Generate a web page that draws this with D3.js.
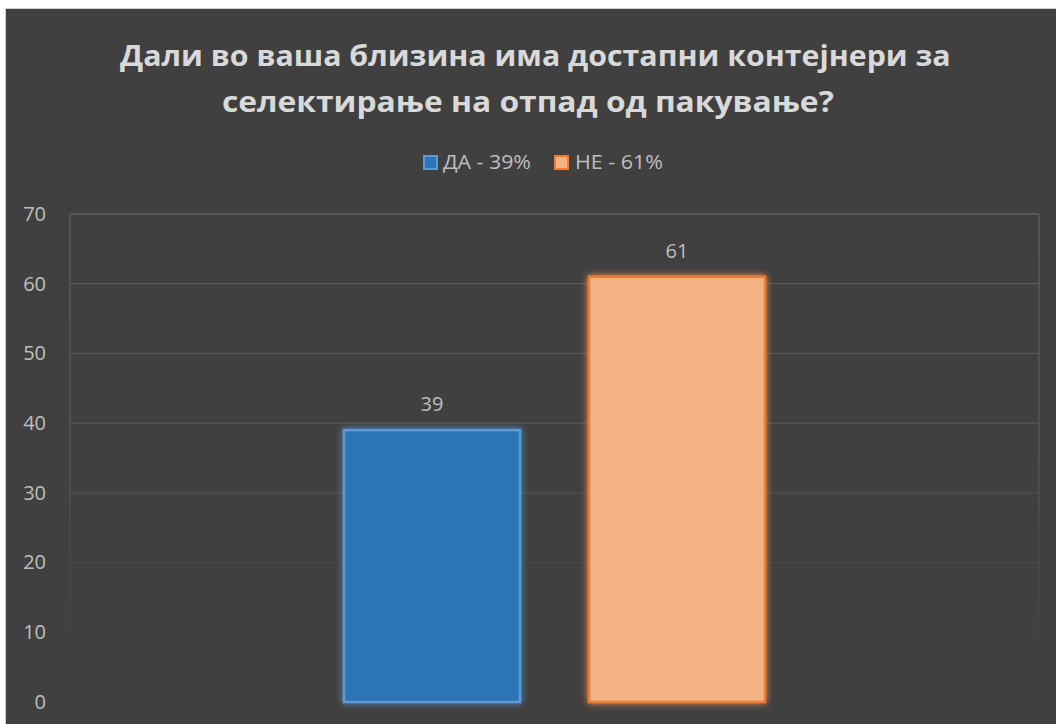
<!DOCTYPE html>
<html><head><meta charset="utf-8">
<script src="https://cdn.jsdelivr.net/npm/d3@7"></script>
<style>html,body{margin:0;padding:0;background:#fff;}svg{display:block;}</style>
</head><body>
<svg id="chart" width="1056" height="724"></svg>
<script>
const titleLines = ["Дали во ваша близина има достапни контејнери за", "селектирање на отпад од пакување?"];
const seriesNames = ["ДА - 39%", "НЕ - 61%"];
const seriesValues = [39, 61];
const fillColors = ["#2E75B6", "#F4B183"];
const strokeColors = ["#5B9BD5", "#ED7D31"];
const yTicks = [0, 10, 20, 30, 40, 50, 60, 70];

const svg = d3.select("#chart");
const W = 1056, H = 724;
const font = "'Open Sans', 'Noto Sans', sans-serif";

function fitText(sel, left, width) {
  const n = sel.node();
  const w = n.getComputedTextLength();
  const s = width / w;
  sel.attr("x", 0).attr("text-anchor", "start")
    .attr("transform", `translate(${left},0) scale(${s},1)`);
}

svg.append("rect").attr("x", 0).attr("y", 0).attr("width", W).attr("height", H).attr("fill", "#ffffff");
svg.append("rect").attr("x", 5.5).attr("y", 8.5).attr("width", W).attr("height", H)
  .attr("fill", "#404040").attr("stroke", "#d0d0d0").attr("stroke-width", 1);

const defs = svg.append("defs");
strokeColors.forEach((c, i) => {
  const f = defs.append("filter").attr("id", "glow" + i).attr("x", "-20%").attr("y", "-20%").attr("width", "140%").attr("height", "140%");
  f.append("feGaussianBlur").attr("in", "SourceGraphic").attr("stdDeviation", 3.5).attr("result", "b");
  const m = f.append("feMerge");
  m.append("feMergeNode").attr("in", "b");
  m.append("feMergeNode").attr("in", "SourceGraphic");
});
const grad = defs.append("linearGradient").attr("id", "gridGrad")
  .attr("gradientUnits", "userSpaceOnUse").attr("x1", 0).attr("x2", 0).attr("y1", 214).attr("y2", 660);
grad.append("stop").attr("offset", "0%").attr("stop-color", "#5e5e5e");
grad.append("stop").attr("offset", "55%").attr("stop-color", "#545454");
grad.append("stop").attr("offset", "100%").attr("stop-color", "#404040");

const plot = {left: 70, right: 1039, top: 214, bottom: 702};
const y = d3.scaleLinear().domain([0, 70]).range([plot.bottom, plot.top]);
const x1 = d3.scaleBand().domain(seriesNames).range([344, 765]).paddingInner(69 / 245).paddingOuter(0);

const g = svg.append("g");
g.selectAll("line.grid").data(yTicks.filter(t => t > 0)).join("line")
  .attr("x1", plot.left).attr("x2", plot.right)
  .attr("y1", d => y(d)).attr("y2", d => y(d))
  .attr("stroke", "url(#gridGrad)").attr("stroke-width", 1.3);
[plot.left, plot.right].forEach(xx => {
  g.append("rect").attr("x", xx - 0.65).attr("y", plot.top).attr("width", 1.3).attr("height", plot.bottom - plot.top)
    .attr("fill", "url(#gridGrad)");
});

const yAxis = d3.axisLeft(y).tickValues(yTicks).tickSize(0).tickPadding(0);
const ya = svg.append("g").attr("transform", `translate(46,0)`).call(yAxis);
ya.select(".domain").remove();
ya.attr("font-size", 20).attr("font-family", font);
ya.selectAll("text").attr("fill", "#bfbfbf").style("font-size", "20px").style("font-family", font);

const bars = svg.append("g");
seriesNames.forEach((s, i) => {
  bars.append("rect")
    .attr("x", x1(s)).attr("y", y(seriesValues[i]))
    .attr("width", x1.bandwidth()).attr("height", y(0) - y(seriesValues[i]))
    .attr("fill", fillColors[i]).attr("stroke", strokeColors[i]).attr("stroke-width", 2.5)
    .attr("filter", `url(#glow${i})`);
  bars.append("text")
    .attr("x", x1(s) + x1.bandwidth() / 2).attr("y", y(seriesValues[i]) - 26)
    .attr("dy", "0.35em").attr("text-anchor", "middle")
    .attr("fill", "#bfbfbf").style("font-size", "20px").style("font-family", font)
    .text(seriesValues[i]);
});

const titleTargets = [{x: 120, w: 831, base: 66}, {x: 222, w: 612, base: 112}];
titleLines.forEach((t, i) => {
  const tx = svg.append("text").attr("y", titleTargets[i].base)
    .attr("fill", "#d9d9d9").attr("font-weight", "bold").attr("font-family", font)
    .attr("font-size", 29).text(t);
  fitText(tx, titleTargets[i].x, titleTargets[i].w);
});

const legend = svg.append("g");
const legX = [423, 554];
const legTextX = [443, 575];
seriesNames.forEach((s, i) => {
  legend.append("rect").attr("x", legX[i] + 1).attr("y", 156).attr("width", 13).attr("height", 13)
    .attr("fill", fillColors[i]).attr("stroke", strokeColors[i]).attr("stroke-width", 2);
  const t = legend.append("text").attr("y", 169)
    .attr("fill", "#bfbfbf").attr("font-size", 20).attr("font-family", font).text(s);
  fitText(t, legTextX[i], 88);
});
</script>
</body></html>
